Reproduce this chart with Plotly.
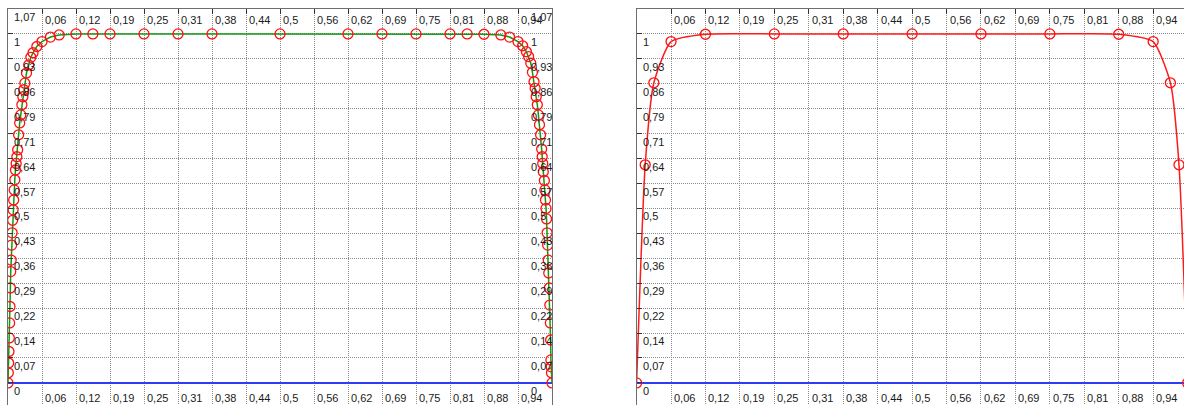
import plotly.graph_objects as go

# ---------------- data ----------------
LEFT_X = [0, 0.0006, 0.0012, 0.0018, 0.0024, 0.003, 0.0037, 0.0044, 0.005, 0.0058,
          0.0067, 0.0076, 0.0085, 0.0094, 0.0104, 0.0114, 0.0125, 0.0137, 0.015, 0.0163,
          0.0178, 0.0195, 0.0215, 0.0235, 0.0255, 0.0273, 0.029, 0.031, 0.034, 0.038,
          0.042, 0.046, 0.053, 0.0625, 0.078, 0.094, 0.125, 0.156, 0.1875, 0.25,
          0.3125, 0.375, 0.5,
          0.625, 0.6875, 0.75, 0.8125, 0.844, 0.875, 0.906, 0.922, 0.9375, 0.946,
          0.953, 0.957, 0.961, 0.964, 0.967, 0.969, 0.971, 0.973, 0.975, 0.977,
          0.979, 0.981, 0.982, 0.983, 0.984, 0.986, 0.987, 0.988, 0.989, 0.990,
          0.991, 0.992, 0.993, 0.994, 0.995, 0.996, 0.997, 0.9975, 0.998, 0.9985,
          0.999, 1.0]
LEFT_Y = [0, 0.029, 0.057, 0.09, 0.129, 0.172, 0.219, 0.272, 0.319, 0.352,
          0.395, 0.43, 0.466, 0.496, 0.524, 0.553, 0.582, 0.61, 0.629, 0.648,
          0.668, 0.711, 0.745, 0.768, 0.797, 0.82, 0.84, 0.859, 0.888, 0.911,
          0.933, 0.946, 0.964, 0.978, 0.991, 0.997, 1, 1, 1, 1,
          1, 1, 1,
          1, 1, 1, 1, 1, 0.999, 0.997, 0.991, 0.978, 0.966,
          0.949, 0.935, 0.916, 0.89, 0.863, 0.844, 0.82, 0.797, 0.768, 0.74,
          0.711, 0.67, 0.648, 0.629, 0.605, 0.58, 0.553, 0.524, 0.5, 0.47,
          0.43, 0.395, 0.352, 0.315, 0.272, 0.223, 0.172, 0.123, 0.066, 0.046,
          0.029, 0.0]

RIGHT_X = [0, 0.0156, 0.0313, 0.0625, 0.125, 0.25, 0.375, 0.5, 0.625, 0.75,
           0.875, 0.9375, 0.9688, 0.9844, 1.0]
RIGHT_Y = [0, 0.625, 0.86, 0.978, 0.999, 1, 1, 1, 1, 1,
           0.999, 0.978, 0.86, 0.625, 0]

ZERO_X = [0, 1]
ZERO_Y = [0, 0]

X_TICKS = [0.0625, 0.125, 0.1875, 0.25, 0.3125, 0.375, 0.4375, 0.5,
           0.5625, 0.625, 0.6875, 0.75, 0.8125, 0.875, 0.9375]
X_TICK_LABELS = ["0,06", "0,12", "0,19", "0,25", "0,31", "0,38", "0,44", "0,5",
                 "0,56", "0,62", "0,69", "0,75", "0,81", "0,88", "0,94"]
Y_TICKS = [0, 0.0714, 0.1429, 0.2143, 0.2857, 0.3571, 0.4286, 0.5, 0.5714,
           0.6429, 0.7143, 0.7857, 0.8571, 0.9286, 1.0, 1.0714]
Y_TICK_LABELS = ["0", "0,07", "0,14", "0,22", "0,29", "0,36", "0,43", "0,5", "0,57",
                 "0,64", "0,71", "0,79", "0,86", "0,93", "1", "1,07"]

# ---------------- layout geometry ----------------
W, H = 1184, 405
Y_TOP = 1.0714
Y_BOT = -0.0633
RIGHT_XMAX = (1184 - 636.6) / 551.0

FONT = dict(family="Liberation Sans, Arial, sans-serif", size=11, color="#1a1a1a")
GRID = "#8c8c8c"
FRAME = "#6e6e6e"

fig = go.Figure()

# left panel
fig.add_trace(go.Scatter(x=ZERO_X, y=ZERO_Y, mode="lines",
                         line=dict(color="#2f3cf5", width=2), xaxis="x", yaxis="y",
                         showlegend=False, hoverinfo="skip"))
fig.add_trace(go.Scatter(x=LEFT_X, y=LEFT_Y, mode="lines",
                         line=dict(color="#149614", width=1.5), xaxis="x", yaxis="y",
                         showlegend=False))
fig.add_trace(go.Scatter(x=LEFT_X, y=LEFT_Y, mode="markers",
                         marker=dict(symbol="circle-open", size=10, color="#ff1010",
                                     line=dict(width=1.3, color="#ff1010")),
                         xaxis="x", yaxis="y", showlegend=False))

# right panel
fig.add_trace(go.Scatter(x=ZERO_X, y=ZERO_Y, mode="lines",
                         line=dict(color="#2f3cf5", width=2), xaxis="x2", yaxis="y2",
                         showlegend=False, hoverinfo="skip"))
fig.add_trace(go.Scatter(x=RIGHT_X, y=RIGHT_Y, mode="lines+markers",
                         line=dict(color="#ff1a1a", width=1.5, shape="spline", smoothing=0.55),
                         marker=dict(symbol="circle-open", size=10, color="#ff1010",
                                     line=dict(width=1.3, color="#ff1010")),
                         xaxis="x2", yaxis="y2", showlegend=False))


def xaxis_cfg(domain, rng, anchor):
    return dict(domain=domain, range=rng, side="top", anchor=anchor, showline=True,
                linecolor=FRAME, linewidth=1, mirror=False, ticks="inside", ticklen=5,
                tickcolor="#333", tickvals=X_TICKS, showticklabels=False, showgrid=True,
                gridcolor=GRID, griddash="1px,1px", gridwidth=1, zeroline=False,
                fixedrange=True)


def yaxis_cfg(anchor, mirror):
    return dict(domain=[0, 1], range=[Y_BOT, Y_TOP], anchor=anchor, showline=True,
                linecolor=FRAME, linewidth=1, mirror=mirror, ticks="inside", ticklen=5,
                tickcolor="#333", tickvals=Y_TICKS, showticklabels=False, showgrid=True,
                gridcolor=GRID, griddash="1px,1px", gridwidth=1, zeroline=False,
                fixedrange=True)


annotations = []
for xr, yr, show_top_label in (("x", "y", True), ("x2", "y2", False)):
    for v, t in zip(X_TICKS, X_TICK_LABELS):
        annotations.append(dict(x=v, y=Y_TOP, xref=xr, yref=yr, text=t, showarrow=False,
                                xanchor="left", yanchor="middle", xshift=1, yshift=-11,
                                font=FONT))
        annotations.append(dict(x=v, y=0, xref=xr, yref=yr, text=t, showarrow=False,
                                xanchor="left", yanchor="middle", xshift=1, yshift=-15,
                                font=FONT))
    for v, t in zip(Y_TICKS, Y_TICK_LABELS):
        if v > 1.0 and not show_top_label:
            continue
        annotations.append(dict(x=0, y=v, xref=xr, yref=yr, text=t, showarrow=False,
                                xanchor="left", yanchor="middle", xshift=4, yshift=-8,
                                font=FONT))
        annotations.append(dict(x=1.0, y=v, xref=xr, yref=yr, text=t, showarrow=False,
                                xanchor="left", yanchor="middle", xshift=-23, yshift=-8,
                                font=FONT))

fig.update_layout(
    width=W, height=H,
    margin=dict(l=0, r=0, t=9, b=0, pad=0),
    paper_bgcolor="white", plot_bgcolor="white",
    xaxis=xaxis_cfg([8 / W, 552 / W], [0, 1], "y"),
    yaxis=yaxis_cfg("x", True),
    xaxis2=xaxis_cfg([636.6 / W, 1.0], [0, RIGHT_XMAX], "y2"),
    yaxis2=yaxis_cfg("x2", False),
    annotations=annotations,
    font=FONT,
    showlegend=False,
)

fig.write_html("out.html", config={"displayModeBar": False})
